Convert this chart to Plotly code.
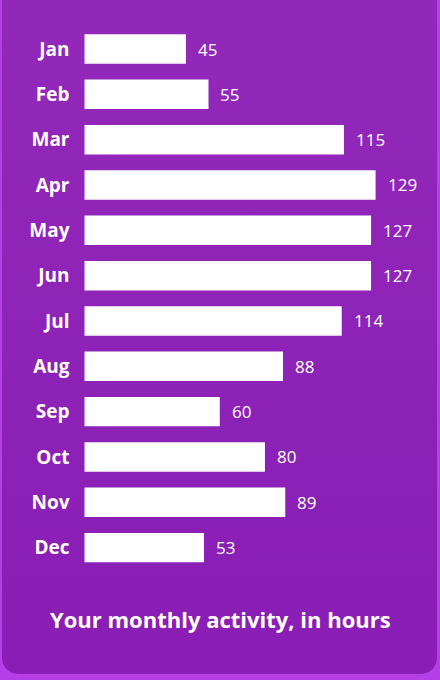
import numpy as np
import plotly.graph_objects as go

# data
months = ["Jan", "Feb", "Mar", "Apr", "May", "Jun",
          "Jul", "Aug", "Sep", "Oct", "Nov", "Dec"]
hours = [45, 55, 115, 129, 127, 127, 114, 88, 60, 80, 89, 53]
title_text = "Your monthly activity, in hours"

W, H = 440, 680
OUTER = "#B43FE7"
CARD_TOP = "#9329B9"
CARD_BOTTOM = "#891DB5"
WHITE = "#FFFFFF"
FONT = "Open Sans, Lato, sans-serif"

PX_PER_HOUR = 2.258
BAR_LEFT = 84.3


def rounded_rect(x0, y0, x1, y1, r, n=12):
    # corner arcs, y grows downward (pixel space)
    pts = []
    corners = [
        (x1 - r, y0 + r, -np.pi / 2, 0),
        (x1 - r, y1 - r, 0, np.pi / 2),
        (x0 + r, y1 - r, np.pi / 2, np.pi),
        (x0 + r, y0 + r, np.pi, 1.5 * np.pi),
    ]
    for cx, cy, a0, a1 in corners:
        t = np.linspace(a0, a1, n)
        pts += list(zip(cx + r * np.cos(t), cy + r * np.sin(t)))
    pts.append(pts[0])
    xs, ys = zip(*pts)
    return list(xs), list(ys)


card_x, card_y = rounded_rect(2, -20, 437, 674, 16)

fig = go.Figure()

# card background (pixel-space axes)
fig.add_trace(go.Scatter(
    x=card_x, y=card_y, mode="lines", fill="toself",
    line=dict(width=0, color=CARD_BOTTOM),
    fillgradient=dict(type="vertical",
                      colorscale=[[0, CARD_BOTTOM], [1, CARD_TOP]]),
    hoverinfo="skip", showlegend=False,
    xaxis="x", yaxis="y",
))

fig.add_trace(go.Bar(
    x=hours, y=months, orientation="h",
    marker=dict(color=WHITE, line=dict(width=0)),
    width=0.65,
    hoverinfo="skip", showlegend=False,
    xaxis="x2", yaxis="y2",
))

for m, v in zip(months, hours):
    fig.add_annotation(
        x=v, y=m, xref="x2", yref="y2", text=str(v),
        showarrow=False, xanchor="left", xshift=10,
        font=dict(family=FONT, size=17, color=WHITE),
    )

fig.add_annotation(
    x=0.5, y=1 - 619 / H, xref="paper", yref="paper",
    text="<b>" + title_text + "</b>", showarrow=False,
    xanchor="center", yanchor="middle",
    font=dict(family=FONT, size=22, color=WHITE),
)

spacing = 45.33
first_center = 49.0
y_top = -first_center / spacing
y_bottom = (H - first_center) / spacing

fig.update_layout(
    width=W, height=H,
    margin=dict(l=0, r=0, t=0, b=0),
    paper_bgcolor=OUTER,
    plot_bgcolor="rgba(0,0,0,0)",
    font=dict(family=FONT, color=WHITE),
    xaxis=dict(domain=[0, 1], range=[0, W], visible=False, fixedrange=True),
    yaxis=dict(domain=[0, 1], range=[H, 0], visible=False, fixedrange=True),
    xaxis2=dict(
        domain=[BAR_LEFT / W, 1], anchor="y2",
        range=[0, (W - BAR_LEFT) / PX_PER_HOUR],
        showgrid=False, zeroline=False, showticklabels=False,
        showline=False, fixedrange=True,
    ),
    yaxis2=dict(
        domain=[0, 1], anchor="x2",
        range=[y_bottom, y_top],
        type="category", categoryorder="array", categoryarray=months,
        showgrid=False, zeroline=False, showline=False,
        ticks="outside", ticklen=10, tickcolor="rgba(0,0,0,0)",
        tickfont=dict(family=FONT, size=19, color=WHITE, weight="bold"),
        fixedrange=True,
    ),
)

# drop the page's default body margin so the figure sits at 0,0
fig.write_html(
    "out.html",
    config={"displayModeBar": False},
    post_script="document.body.style.margin='0';document.body.style.overflow='hidden';",
)
